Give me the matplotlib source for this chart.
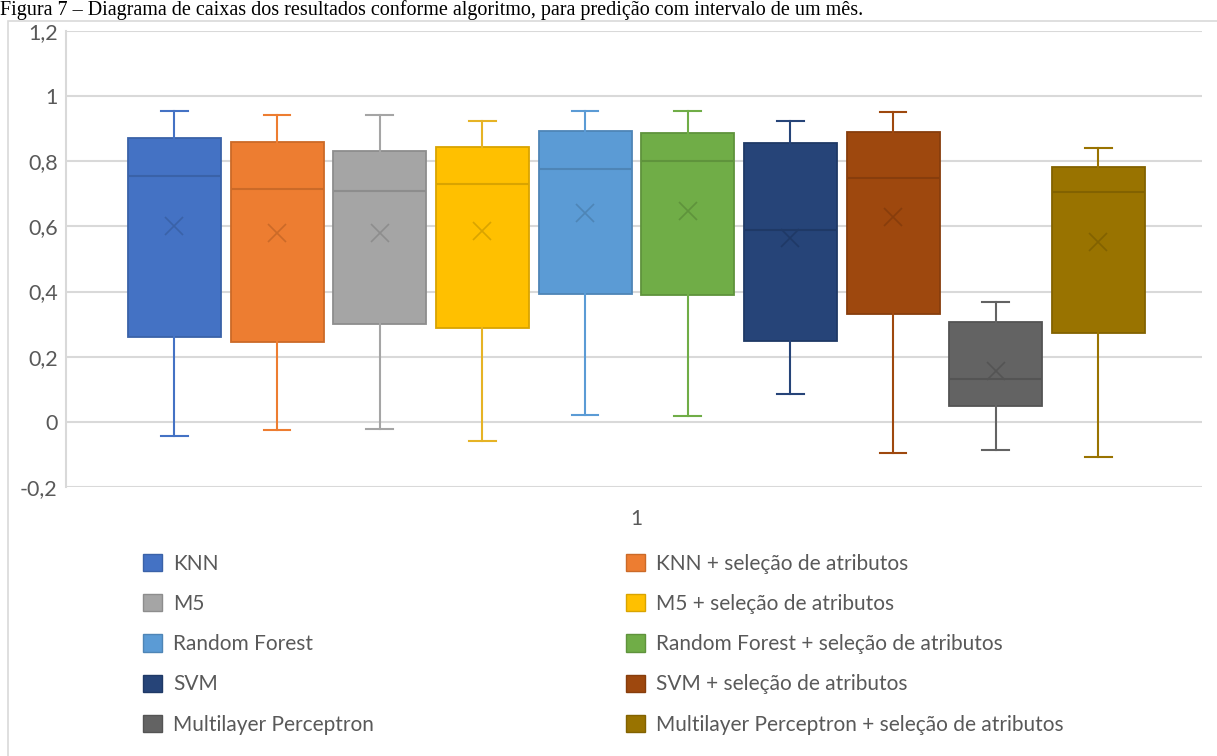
import matplotlib
matplotlib.use("Agg")
import matplotlib.pyplot as plt
from matplotlib.patches import Patch, Rectangle

# values
labels = [
    "KNN", "KNN + seleção de atributos",
    "M5", "M5 + seleção de atributos",
    "Random Forest", "Random Forest + seleção de atributos",
    "SVM", "SVM + seleção de atributos",
    "Multilayer Perceptron", "Multilayer Perceptron + seleção de atributos",
]
whis_hi = [0.954, 0.942, 0.942, 0.924, 0.954, 0.954, 0.924, 0.950, 0.368, 0.840]
q3 = [0.870, 0.860, 0.833, 0.843, 0.892, 0.886, 0.855, 0.890, 0.306, 0.781]
median = [0.755, 0.714, 0.709, 0.729, 0.775, 0.802, 0.588, 0.748, 0.133, 0.705]
mean = [0.601, 0.579, 0.579, 0.587, 0.642, 0.647, 0.565, 0.629, 0.157, 0.553]
q1 = [0.260, 0.246, 0.300, 0.287, 0.394, 0.388, 0.248, 0.330, 0.050, 0.272]
whis_lo = [-0.042, -0.025, -0.021, -0.060, 0.021, 0.018, 0.084, -0.097, -0.087, -0.107]

colors = ["#4472C4", "#ED7D31", "#A5A5A5", "#FFC000", "#5B9BD5",
          "#70AD47", "#264478", "#9E480E", "#636363", "#997300"]
edges = ["#3A62A8", "#CB6A28", "#8D8D8D", "#D9A400", "#4E85B6",
         "#5F933C", "#1F3966", "#873D0C", "#545454", "#826200"]

yticks = [-0.2, 0, 0.2, 0.4, 0.6, 0.8, 1, 1.2]
ytick_labels = ["-0,2", "0", "0,2", "0,4", "0,6", "0,8", "1", "1,2"]

TEXT = "#595959"
GRID = "#D9D9D9"
FONT = "Lato"

W, H = 1217, 756
fig = plt.figure(figsize=(W / 100, H / 100), dpi=100)

# outer chart frame (cut off at right and bottom)
fig.patches.append(Rectangle((8 / W, -0.1), 1.2, 1 - 21 / H + 0.1, transform=fig.transFigure,
                             fill=False, edgecolor=GRID, linewidth=1.2))

fig.text(0.0, 1 - 15 / H,
         "Figura 7 – Diagrama de caixas dos resultados conforme algoritmo, para predição com intervalo de um mês.",
         fontfamily="Liberation Serif", fontsize=14.5, ha="left", va="baseline", color="black")

ax = fig.add_axes([66 / W, 1 - 487 / H, (1202 - 66) / W, (487 - 31) / H])

stats = []
for i in range(len(labels)):
    stats.append({
        "label": labels[i], "whislo": whis_lo[i], "q1": q1[i], "med": median[i],
        "q3": q3[i], "whishi": whis_hi[i], "mean": mean[i], "fliers": [],
    })

positions = list(range(len(labels)))
bp = ax.bxp(stats, positions=positions, widths=0.906, capwidths=0.26,
            patch_artist=True, showmeans=True, showfliers=False, manage_ticks=False)

for i, box in enumerate(bp["boxes"]):
    box.set_facecolor(colors[i])
    box.set_edgecolor(edges[i])
    box.set_linewidth(1.3)
    bp["medians"][i].set_color(edges[i])
    bp["medians"][i].set_linewidth(1.5)
    bp["means"][i].set_marker("x")
    bp["means"][i].set_markeredgecolor(edges[i])
    bp["means"][i].set_markersize(13)
    bp["means"][i].set_markeredgewidth(1.2)
    for line in bp["whiskers"][2 * i:2 * i + 2] + bp["caps"][2 * i:2 * i + 2]:
        line.set_color(colors[i] if i != 3 else "#E6B325")
        line.set_linewidth(1.5)

ax.set_xlim(-1.057, 10.01)
ax.set_ylim(-0.2, 1.2)
ax.set_yticks(yticks)
ax.set_yticklabels(ytick_labels, fontfamily=FONT, fontsize=15.5, color=TEXT)
ax.set_xticks([4.5])
ax.set_xticklabels(["1"], fontfamily=FONT, fontsize=15, color=TEXT)
ax.tick_params(axis="both", length=0)
ax.tick_params(axis="y", pad=6)
ax.tick_params(axis="x", pad=16)
ax.yaxis.grid(True, color=GRID, linewidth=1.5)
ax.set_axisbelow(True)
for side in ["top", "right", "bottom"]:
    ax.spines[side].set_visible(False)
ax.spines["left"].set_color(GRID)
ax.spines["left"].set_linewidth(1.5)

# legend: column-wise fill gives the row order of the reference
order = [0, 2, 4, 6, 8, 1, 3, 5, 7, 9]
handles = [Patch(facecolor=colors[i], edgecolor=edges[i], label=labels[i]) for i in order]
fig.legend(handles=handles, ncol=2, loc="upper left", bbox_to_anchor=(124 / W, 1 - 535 / H),
           frameon=False, prop={"family": FONT, "size": 15}, labelcolor=TEXT,
           handlelength=0.9, handleheight=0.9, handletextpad=0.55,
           columnspacing=12.1, labelspacing=0.97)

fig.savefig("out.png", dpi=100)
